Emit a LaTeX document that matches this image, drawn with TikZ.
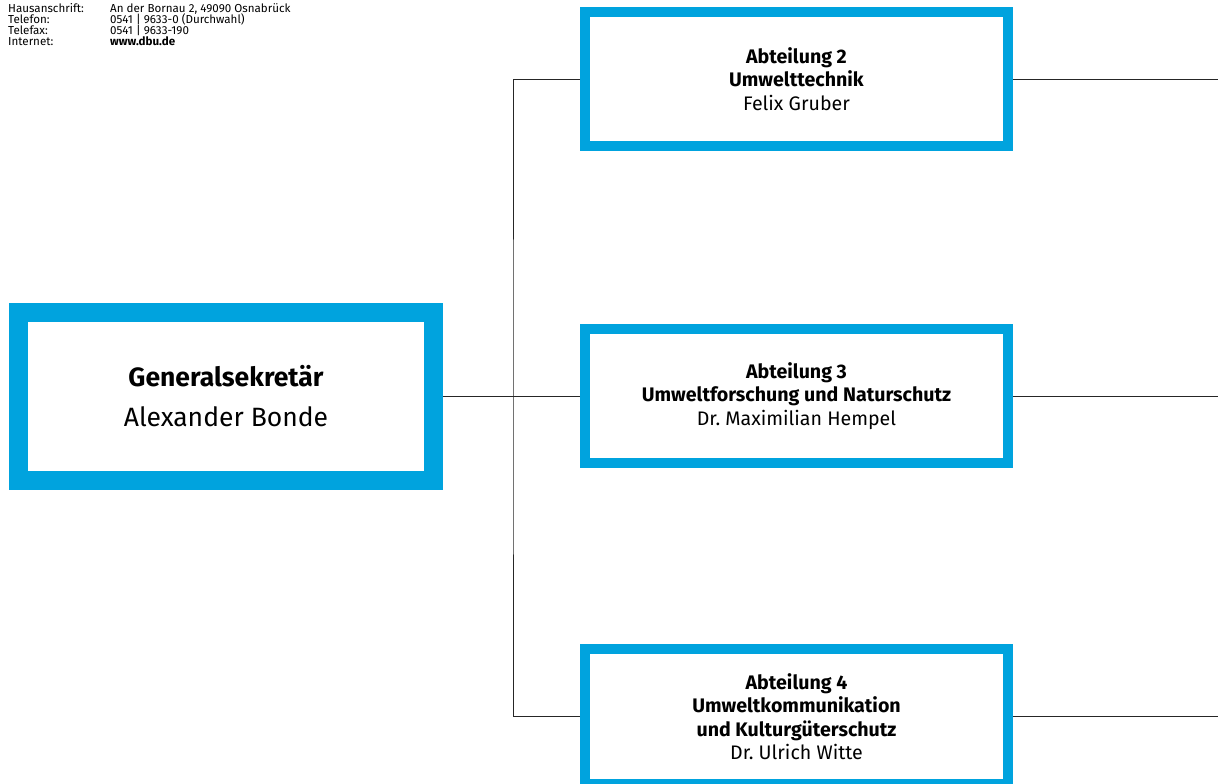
\documentclass[tikz,border=0pt]{standalone}
\usepackage{fontspec}
\setmainfont{Fira Sans}
\definecolor{dbublue}{RGB}{0,163,222}
\frenchspacing
\newcommand\addrfont{\fontsize{11.6}{11}\selectfont\lineskiplimit=-20pt\relax}
\begin{document}
\begin{tikzpicture}[x=1pt,y=-1pt,
    abtbox/.style={draw=dbublue,line width=10pt,minimum width=423pt,minimum height=134pt,
      align=center,font=\fontsize{19.6}{23.5}\selectfont},
    gsbox/.style={draw=dbublue,line width=19pt,minimum width=415pt,minimum height=168pt,
      align=center,font=\fontsize{26.5}{40}\selectfont},
    addrtext/.style={anchor=north west,inner sep=0pt,align=left,font=\addrfont},
    link/.style={line width=0.8pt,black!85}]
  \useasboundingbox (0,0) rectangle (1218,784);
  % address block
  \node[addrtext] (addrl) at (8,3) {Hausanschrift:\\Telefon:\\Telefax:\\Internet:};
  \node[addrtext] (addrv) at (110,3) {An der Bornau 2, 49090 Osnabrück\\0541 | 9633-0 (Durchwahl)\\0541 | 9633-190\\\textbf{www.dbu.de}};
  % boxes
  \node[gsbox] (gs) at (226,396) {\textbf{Generalsekretär}\\Alexander Bonde};
  \node[abtbox] (a2) at (796.5,79) {\textbf{Abteilung 2}\\\textbf{Umwelttechnik}\\Felix Gruber};
  \node[abtbox] (a3) at (796.5,396) {\textbf{Abteilung 3}\\\textbf{Umweltforschung und Naturschutz}\\Dr. Maximilian Hempel};
  \node[abtbox,minimum height=135pt] (a4) at (796.5,716.5) {\textbf{Abteilung 4}\\\textbf{Umweltkommunikation}\\\textbf{und Kulturgüterschutz}\\Dr. Ulrich Witte};
  \coordinate (spine) at (513,396);
  \coordinate (e2) at (1218,79);
  \coordinate (e3) at (1218,396);
  \coordinate (e4) at (1218,716.5);
  % connectors
  \begin{scope}[link]
    \draw (gs) to (a3);
    \draw (a2.west) -| (spine) |- (a4.west);
    \draw (a2.east) to (e2);
    \draw (a3.east) to (e3);
    \draw (a4.east) to (e4);
  \end{scope}
\end{tikzpicture}
\end{document}
